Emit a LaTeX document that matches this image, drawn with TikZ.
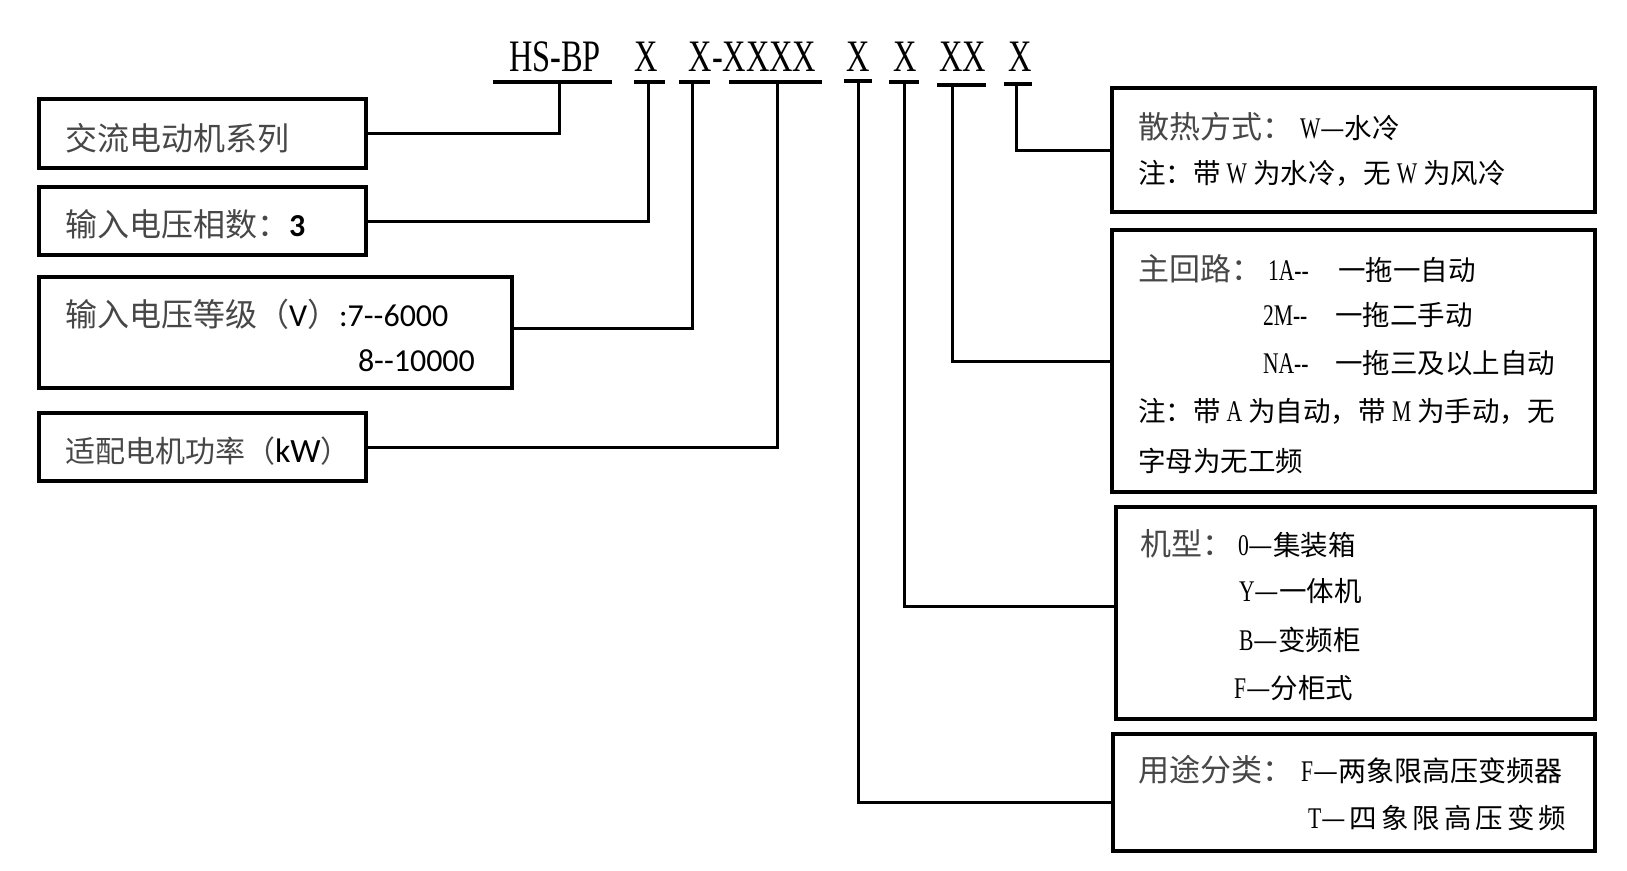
\documentclass[tikz,border=0pt]{standalone}
\usepackage{fontspec}
\setmainfont{Liberation Serif}
\newfontfamily\cjkf{Noto Sans CJK SC}
\newfontfamily\cond[FakeStretch=0.72]{Liberation Serif}
\newfontfamily\carl{Carlito}
\newcommand\fs[1]{\fontsize{#1pt}{#1pt}\selectfont}
\newcommand\lat[1]{{\cond\fs{30}#1}}
\newcommand\gp{\hspace{4pt}}
\definecolor{hdgray}{gray}{0.28}
\begin{document}
\begin{tikzpicture}[x=1pt,y=-1pt,
  box/.style={draw, line width=3.2pt, inner sep=0pt, outer sep=0pt, rectangle},
  conn/.style={line width=3pt},
  ubar/.style={line width=4pt},
  txt/.style={anchor=base west, inner sep=0pt, outer sep=0pt},
  ttl/.style={anchor=base, inner sep=0pt, font=\cond\fs{45}},
  hd/.style={txt, font=\cjkf\fs{31}, text=hdgray},
  bd/.style={txt, font=\cjkf\fs{27.5}},
  lft/.style={txt, font=\cjkf\fs{32}, text=hdgray}]
\fill[white] (0,0) rectangle (1627,870);
\useasboundingbox (0,0) rectangle (1627,870);

% title
\node[ttl] (tHS) at (555,71) {HS-BP};
\node[ttl] (tX1) at (646.5,71) {X};
\node[ttl] (tX2) at (752.5,71) {X-XXXX};
\node[ttl] (tX3) at (858,71) {X};
\node[ttl] (tX4) at (905,71) {X};
\node[ttl] (tXX) at (962.5,71) {XX};
\node[ttl] (tX5) at (1020,71) {X};

% underlines
\foreach \n/\a/\b/\y/\v in {0/493/612/82/559, 1/634/665/82/648, 2/679/710/82/692,
  3/729/822/82/777, 4/844/872/81/858, 5/889/919/82/904, 6/937/986/85/952, 7/1004/1032/84/1016}{
  \coordinate (ua\n) at (\a,\y);
  \coordinate (ub\n) at (\b,\y);
  \coordinate (v\n) at (\v,\y);
  \draw[ubar] (ua\n) -- (ub\n);
}

% left boxes
\node[box, minimum width=327pt, minimum height=69pt] (L1) at (202.5,133.5) {};
\node[box, minimum width=327pt, minimum height=68pt] (L2) at (202.5,221) {};
\node[box, minimum width=473pt, minimum height=111pt] (L3) at (275.5,332.5) {};
\node[box, minimum width=327pt, minimum height=68pt] (L4) at (202.5,447) {};

\node[lft] (t1) at (65,150) {交流电动机系列};
\node[lft] (t2) at (65,236) {输入电压相数：{\carl\bfseries\color{black}3}};
\node[lft] (t3a) at (65,326) {输入电压等级（{\carl\color{black}V}）{\carl\color{black}:7-{}-6000}};
\node[txt, font=\carl\fs{32}] (t3b) at (358,371) {8-{}-10000};
\node[txt, font=\cjkf\fs{30}, text=hdgray] (t4) at (65,462) {适配电机功率（{\carl\fs{34}\color{black}kW}）};

% right boxes
\node[box, minimum width=483pt, minimum height=124pt] (RA) at (1353.5,150) {};
\node[box, minimum width=483pt, minimum height=262pt] (RB) at (1353.5,361) {};
\node[box, minimum width=479pt, minimum height=212pt] (RC) at (1355.5,613) {};
\node[box, minimum width=482pt, minimum height=117pt] (RD) at (1354,792.5) {};

\node[hd] (ha) at (1138,138) {散热方式：};
\node[bd] (a1) at (1300,138) {\lat{W}—水冷};
\node[bd] (a2) at (1138,183) {注：带 \lat{W} 为水冷，无 \lat{W} 为风冷};

\node[hd] (hb) at (1138,280) {主回路：};
\node[bd] (b1a) at (1268,280) {\lat{1A-{}-}};
\node[bd] (b1b) at (1338,280) {一拖一自动};
\node[bd] (b2a) at (1263,325) {\lat{2M-{}-}};
\node[bd] (b2b) at (1335,325) {一拖二手动};
\node[bd] (b3a) at (1263,373) {\lat{NA-{}-}};
\node[bd] (b3b) at (1335,373) {一拖三及以上自动};
\node[bd] (b4) at (1138,421) {注：带 \lat{A} 为自动，带 \lat{M} 为手动，无};
\node[bd] (b5) at (1138,471) {字母为无工频};

\node[hd] (hc) at (1140,555) {机型：};
\node[bd] (c1) at (1238,555) {\lat{0}—集装箱};
\node[bd] (c2) at (1239,601) {\lat{Y}—一体机};
\node[bd] (c3) at (1239,650) {\lat{B}—变频柜};
\node[bd] (c4) at (1234,698) {\lat{F}—分柜式};

\node[hd] (hdd) at (1138,781) {用途分类：};
\node[bd, font=\cjkf\fs{28}] (d1) at (1301,781) {\lat{F}—两象限高压变频器};
\node[bd] (d2) at (1308,828) {\lat{T}—\gp 四\gp 象\gp 限\gp 高\gp 压\gp 变\gp 频};

% connectors
\draw[conn] (v0) |- (L1.east);
\draw[conn] (v1) |- (L2.east);
\draw[conn] (v2) |- ([yshift=4.5pt]L3.east);
\draw[conn] (v3) |- (L4.east);
\draw[conn] (v4) |- ([yshift=-9.5pt]RD.west);
\draw[conn] (v5) |- ([yshift=7pt]RC.west);
\draw[conn] (v6) |- (RB.west);
\draw[conn] (v7) |- (RA.west);
\end{tikzpicture}
\end{document}
